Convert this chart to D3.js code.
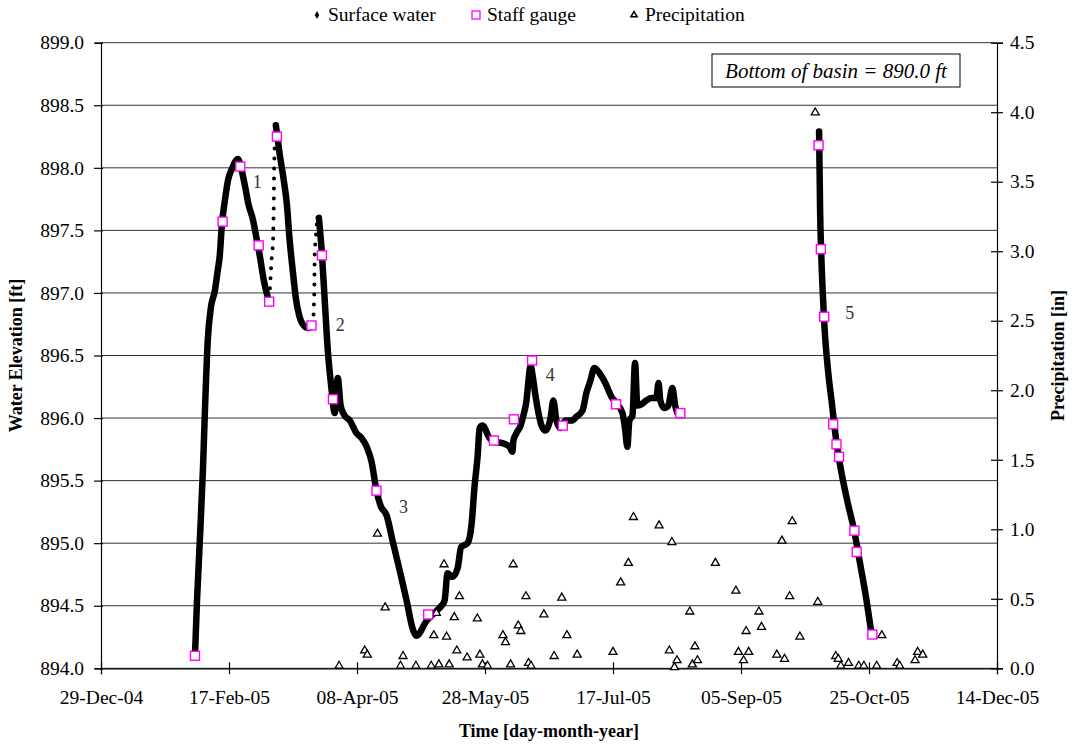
<!DOCTYPE html>
<html>
<head>
<meta charset="utf-8">
<script src="https://cdn.jsdelivr.net/npm/d3@7"></script>
<style>
body{margin:0;background:#fff;}
svg text{font-family:"Liberation Serif","Times New Roman",serif;fill:#000;}
</style>
</head>
<body>
<div id="chart"></div>
<script>
// all days are day-of-year 2005 (1 = 01-Jan-05)
var swDay = [34.7,35.5,36.6,37.8,38.6,39.7,40.9,42.5,43.6,44.4,45.2,46.4,47.6,49.1,51.5,52.6,54.2,55.7,57.3,58.9,60.0,61.6,63.2,64.5,
	66.3,67.8,69.4,70.6,71.7,72.9,74.1,75.3,76.8,78.8,80.3,81.5,
	83.1,84.2,85.4,86.6,88.0,89.3,90.5,91.6,93.2,95.2,97.8,99.8,101.8,103.7,105.6,107.2,109.6,111.9,114.7,117.4,
	119.7,121.2,125.2,129.1,131.0,132.2,133.4,135.3,137.3,138.7,141.2,142.8,143.9,145.1,145.9,147.0,149.8,151.7,154.8,157.6,
	158.7,159.1,160.3,161.9,163.0,164.2,164.8,165.8,166.6,167.7,168.9,170.1,171.6,173.6,174.7,175.9,177.5,179.4,181.8,183.7,
	186.1,187.6,189.2,190.7,192.7,195.0,197.4,199.3,201.7,202.8,203.6,204.4,205.6,206.6,207.5,209.1,211.0,213.0,214.9,215.8,
	216.5,218.1,219.6,221.2,222.3,223.1,250,
	278.5,278.7,278.9,279.3,279.9,280.7,282.0,283.6,285.2,287.1,289.5,292.2,294.5,296.9,298.8];
var swElev = [894.10,894.54,895.02,895.58,896.06,896.62,896.88,897.02,897.18,897.30,897.54,897.74,897.90,897.99,898.07,898.01,897.86,897.70,897.59,897.42,897.30,897.10,896.96,null,
	898.34,898.11,897.90,897.71,897.42,897.18,896.96,896.83,896.75,896.72,896.73,null,
	897.60,897.34,896.94,896.54,896.24,896.04,896.32,896.10,896.02,895.98,895.88,895.84,895.77,895.65,895.42,895.30,895.22,895.02,894.78,894.54,
	894.32,894.26,894.38,894.46,894.50,894.54,894.76,894.73,894.80,894.97,895.00,895.16,895.45,895.69,895.92,895.94,895.84,895.81,895.80,895.77,
	895.73,895.82,895.88,895.94,896.02,896.14,896.26,896.42,896.34,896.18,896.04,895.94,895.90,896.00,896.14,895.98,895.92,895.98,895.98,896.01,
	896.06,896.20,896.30,896.40,896.36,896.28,896.17,896.12,896.04,895.90,895.77,895.98,896.02,896.44,896.10,896.11,896.14,896.16,896.16,896.28,
	896.14,896.08,896.10,896.24,896.10,896.04,null,
	898.29,897.98,897.66,897.34,897.02,896.70,896.38,896.10,895.82,895.58,895.34,895.10,894.84,894.56,894.30];

// quick rises logged as separate dots
var riseDay = [63.2,63.9,64.6,65.2,65.5,65.6,65.9,66.3,70,80.3,80.8,81.3,81.5,82.3,83.1];
var riseElev = [896.96,897.00,897.26,897.39,897.71,897.98,898.22,898.34,null,896.73,896.70,896.98,897.34,897.55,897.60];

var gaugeDay = [34.7,45.5,52.4,59.6,63.7,66.7,80.2,84.3,88.6,105.6,125.8,151.5,159.3,166.4,178.4,199.2,224.3,
	278.3,279.2,280.5,284.0,285.3,286.3,292.3,293.2,299.3];
var gaugeElev = [894.10,897.57,898.01,897.38,896.93,898.25,896.74,897.30,896.15,895.42,894.43,895.82,895.99,896.46,895.94,896.11,896.04,
	898.18,897.35,896.81,895.95,895.79,895.69,895.10,894.93,894.27];

var precipDay = [91,101,102,106,109,115,116,121,127,128,129,130,132,133,134,136,137,138,141,145,146,147,149,155,156,158,159,161,162,164,
	165,166,171,175,178,180,184,198,201,204,206,216,220,221,222,223,228,229,230,231,238,246,247,249,250,251,255,256,262,264,
	265,267,268,271,277,278,285,286,287,290,294,296,301,303,309,310,316,317,319];
var precipIn = [0.01,0.12,0.09,0.96,0.43,0.01,0.08,0.01,0.01,0.23,0.39,0.02,0.74,0.22,0.02,0.36,0.12,0.51,0.07,0.35,0.09,0.02,0.01,0.23,0.18,0.02,0.74,0.30,0.26,0.51,
	0.03,0.01,0.38,0.08,0.50,0.23,0.09,0.11,0.61,0.75,1.08,1.02,0.12,0.90,0.00,0.05,0.40,0.02,0.15,0.05,0.75,0.55,0.11,0.05,0.26,0.11,0.40,0.29,0.09,0.91,
	0.06,0.51,1.05,0.22,3.99,0.47,0.08,0.06,0.01,0.03,0.01,0.01,0.01,0.23,0.03,0.01,0.05,0.11,0.09];

var xTickLabels = ["29-Dec-04","17-Feb-05","08-Apr-05","28-May-05","17-Jul-05","05-Sep-05","25-Oct-05","14-Dec-05"];
var elevTicks = [894.0,894.5,895.0,895.5,896.0,896.5,897.0,897.5,898.0,898.5,899.0];
var precipTicks = [0,0.5,1.0,1.5,2.0,2.5,3.0,3.5,4.0,4.5];

var eventLabels = ["1","2","3","4","5"];
var eventDay = [59.0,91.5,116.2,173.5,290.5];
var eventElev = [897.89,896.75,895.29,896.35,896.84];

var legendNames = ["Surface water","Staff gauge","Precipitation"];

var W = 1073, H = 750;
var plotLeft = 101, plotRight = 997, plotTop = 42.7, plotBottom = 668.3;

function dayToDate(doy){
	return new Date(Date.UTC(2005,0,1) + (doy-1)*864e5);
}
var parseTick = d3.utcParse("%d-%b-%y");
var tickDates = xTickLabels.map(parseTick);

var x = d3.scaleUtc().domain([tickDates[0], tickDates[tickDates.length-1]]).range([plotLeft, plotRight]);
var yL = d3.scaleLinear().domain([894, 899]).range([plotBottom, plotTop]);
var yR = d3.scaleLinear().domain([0, 4.5]).range([plotBottom, plotTop]);

var svg = d3.select('#chart').append('svg')
	.attr('width', W)
	.attr('height', H)
	.style('background', '#fff');

// horizontal gridlines
svg.append('g').attr('class','grid')
	.selectAll('line').data(elevTicks).enter()
	.append('line')
		.attr('x1', plotLeft).attr('x2', plotRight)
		.attr('y1', function(d){ return yL(d); })
		.attr('y2', function(d){ return yL(d); })
		.attr('stroke', '#333')
		.attr('stroke-width', 1);

function styleAxis(g){
	g.attr('font-size', null).attr('font-family', null);
	g.selectAll('path.domain').attr('stroke', '#000').attr('stroke-width', 1.2);
	g.selectAll('.tick line').attr('stroke', '#000').attr('stroke-width', 1.2);
	g.selectAll('.tick text').style('font-size', '19.5px');
}

var xAxis = svg.append('g')
	.attr('transform', 'translate(0,' + plotBottom + ')')
	.call(d3.axisBottom(x).tickValues(tickDates).tickSizeOuter(0).tickSize(6)
		.tickFormat(function(d,i){ return xTickLabels[i]; }));
styleAxis(xAxis);
xAxis.selectAll('.tick line').attr('y1', -6).attr('y2', 6);
xAxis.selectAll('.tick text').attr('y', 22);

var leftAxis = svg.append('g')
	.attr('transform', 'translate(' + plotLeft + ',0)')
	.call(d3.axisLeft(yL).tickValues(elevTicks).tickSizeOuter(0).tickSize(6).tickFormat(d3.format('.1f')));
styleAxis(leftAxis);
leftAxis.selectAll('.tick line').attr('x1', -7).attr('x2', 2);
leftAxis.selectAll('.tick text').attr('x', -17);

var rightAxis = svg.append('g')
	.attr('transform', 'translate(' + plotRight + ',0)')
	.call(d3.axisRight(yR).tickValues(precipTicks).tickSizeOuter(0).tickSize(6).tickFormat(d3.format('.1f')));
styleAxis(rightAxis);
rightAxis.selectAll('.tick line').attr('x1', -6).attr('x2', 6);
rightAxis.selectAll('.tick text').attr('x', 13);

// surface water: dense logger readings drawn as a thick band
var swData = swDay.map(function(d,i){ return [dayToDate(d), swElev[i]]; });
var line = d3.line()
	.defined(function(d){ return d[1] != null; })
	.x(function(d){ return x(d[0]); })
	.y(function(d){ return yL(d[1]); })
	.curve(d3.curveMonotoneX);

svg.append('path')
	.datum(swData)
	.attr('d', line)
	.attr('fill', 'none')
	.attr('stroke', '#000')
	.attr('stroke-width', 6.5)
	.attr('stroke-linejoin', 'round')
	.attr('stroke-linecap', 'round');

var riseData = riseDay.map(function(d,i){ return [dayToDate(d), riseElev[i]]; });
svg.append('path')
	.datum(riseData)
	.attr('d', line.curve(d3.curveLinear))
	.attr('fill', 'none')
	.attr('stroke', '#000')
	.attr('stroke-width', 4)
	.attr('stroke-dasharray', '0,10')
	.attr('stroke-linecap', 'round');

// event numbers
svg.append('g').selectAll('text').data(eventLabels).enter()
	.append('text')
		.attr('x', function(d,i){ return x(dayToDate(eventDay[i])); })
		.attr('y', function(d,i){ return yL(eventElev[i]); })
		.attr('dy', '0.35em')
		.attr('text-anchor', 'middle')
		.style('font-size', '18px')
		.style('fill', '#333')
		.text(function(d){ return d; });

// precipitation on right axis
var tri = d3.symbol().type(d3.symbolTriangle).size(28);
svg.append('g').selectAll('path').data(precipDay).enter()
	.append('path')
		.attr('d', tri)
		.attr('transform', function(d,i){
			return 'translate(' + x(dayToDate(d)) + ',' + (yR(precipIn[i]) - 1) + ')';
		})
		.attr('fill', '#fff')
		.attr('stroke', '#000')
		.attr('stroke-width', 1.3);

// staff gauge readings
svg.append('g').selectAll('rect').data(gaugeDay).enter()
	.append('rect')
		.attr('x', function(d){ return x(dayToDate(d)) - 4.5; })
		.attr('y', function(d,i){ return yL(gaugeElev[i]) - 4.5; })
		.attr('width', 9)
		.attr('height', 9)
		.attr('fill', '#fff')
		.attr('stroke', '#ff00ff')
		.attr('stroke-width', 1.4);

// note box
var note = svg.append('g');
note.append('rect')
	.attr('x', 712).attr('y', 54)
	.attr('width', 248).attr('height', 33)
	.attr('fill', '#fff')
	.attr('stroke', '#000')
	.attr('stroke-width', 1);
note.append('text')
	.attr('x', 836).attr('y', 78)
	.attr('text-anchor', 'middle')
	.style('font-size', '21px')
	.style('font-style', 'italic')
	.text('Bottom of basin = 890.0 ft');

// legend
var legend = svg.append('g').attr('class','legend');
var legX = [317, 476, 634];
legend.append('path')
	.attr('d', d3.symbol().type(d3.symbolDiamond).size(18))
	.attr('transform', 'translate(' + legX[0] + ',15)')
	.attr('fill', '#000');
legend.append('rect')
	.attr('x', legX[1]-4).attr('y', 11)
	.attr('width', 8).attr('height', 8)
	.attr('fill', '#fff').attr('stroke', '#ff00ff').attr('stroke-width', 1.3);
legend.append('path')
	.attr('d', d3.symbol().type(d3.symbolTriangle).size(16))
	.attr('transform', 'translate(' + legX[2] + ',15)')
	.attr('fill', '#fff').attr('stroke', '#000').attr('stroke-width', 1.5);
legend.selectAll('text').data(legendNames).enter()
	.append('text')
		.attr('x', function(d,i){ return legX[i] + 11; })
		.attr('y', 21)
		.style('font-size', '19.5px')
		.text(function(d){ return d; });

// axis titles
svg.append('text')
	.attr('transform', 'translate(22,' + ((plotTop+plotBottom)/2) + ') rotate(-90)')
	.attr('text-anchor', 'middle')
	.style('font-size', '18px')
	.style('font-weight', 'bold')
	.text('Water Elevation [ft]');
svg.append('text')
	.attr('transform', 'translate(1064,' + ((plotTop+plotBottom)/2) + ') rotate(-90)')
	.attr('text-anchor', 'middle')
	.style('font-size', '18px')
	.style('font-weight', 'bold')
	.text('Precipitation [in]');
svg.append('text')
	.attr('x', (plotLeft+plotRight)/2)
	.attr('y', 737)
	.attr('text-anchor', 'middle')
	.style('font-size', '18px')
	.style('font-weight', 'bold')
	.text('Time [day-month-year]');
</script>
</body>
</html>
